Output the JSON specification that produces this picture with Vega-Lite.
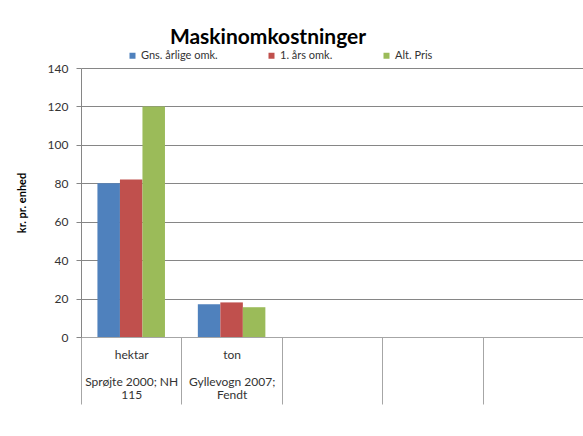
{
  "$schema": "https://vega.github.io/schema/vega-lite/v6.json",
  "width": 502,
  "height": 269,
  "autosize": {"type": "none"},
  "padding": {"left": 81, "top": 68, "right": 0, "bottom": 99},
  "background": "white",
  "config": {"font": "Lato", "view": {"stroke": null}},
  "title": {"text": "Maskinomkostninger", "fontSize": 21, "font": "Lato", "fontWeight": "bold", "color": "black", "anchor": "middle", "dx": -64, "offset": 2},
  "data": {"values": [
    {"enhed": "hektar", "serie": "Gns. årlige omk.", "kr": 80},
    {"enhed": "hektar", "serie": "1. års omk.", "kr": 82},
    {"enhed": "hektar", "serie": "Alt. Pris", "kr": 120},
    {"enhed": "ton", "serie": "Gns. årlige omk.", "kr": 17},
    {"enhed": "ton", "serie": "1. års omk.", "kr": 18},
    {"enhed": "ton", "serie": "Alt. Pris", "kr": 15.5}
  ]},
  "mark": {"type": "bar"},
  "encoding": {
    "x": {
      "field": "enhed", "type": "nominal",
      "scale": {"domain": ["hektar", "ton", "c3", "c4", "c5"], "paddingInner": 0, "paddingOuter": 0},
      "axis": {
        "title": null, "domainColor": "#a6a6a6", "tickColor": "#a6a6a6", "tickSize": 67, "tickBand": "extent",
        "labelAngle": 0, "labelPadding": -55, "labelBaseline": "top", "labelLineHeight": 13.5, "labelFontSize": 12, "labelColor": "#333333",
        "labelExpr": "datum.value == 'hektar' ? ['hektar', '\u200b', 'Sprøjte 2000; NH', '115'] : datum.value == 'ton' ? ['ton', '\u200b', 'Gyllevogn 2007;', 'Fendt'] : ''",
        "grid": false
      }
    },
    "xOffset": {
      "field": "serie", "type": "nominal",
      "scale": {"domain": ["Gns. årlige omk.", "1. års omk.", "Alt. Pris"], "paddingInner": 0, "paddingOuter": 0.73}
    },
    "y": {
      "field": "kr", "type": "quantitative",
      "scale": {"domain": [0, 140], "nice": false},
      "axis": {
        "title": "kr. pr. enhed", "titleFontSize": 11, "titleFontWeight": "bold", "titleColor": "black", "titlePadding": 20,
        "values": [0, 20, 40, 60, 80, 100, 120, 140],
        "tickSize": 5, "tickColor": "#868686", "domainColor": "#868686", "gridColor": "#868686", "gridOpacity": 1,
        "labelFontSize": 12, "labelColor": "#333333", "labelPadding": 8
      }
    },
    "color": {
      "field": "serie", "type": "nominal",
      "scale": {"domain": ["Gns. årlige omk.", "1. års omk.", "Alt. Pris"], "range": ["#4F81BD", "#C0504D", "#9BBB59"]},
      "legend": {
        "orient": "none", "legendX": 46, "legendY": -18, "direction": "horizontal", "title": null,
        "symbolType": "square", "symbolSize": 36, "symbolStrokeWidth": 0, "symbolOpacity": 1,
        "labelFontSize": 11, "labelColor": "#333333", "columnPadding": 48, "labelOffset": 3
      }
    }
  }
}
